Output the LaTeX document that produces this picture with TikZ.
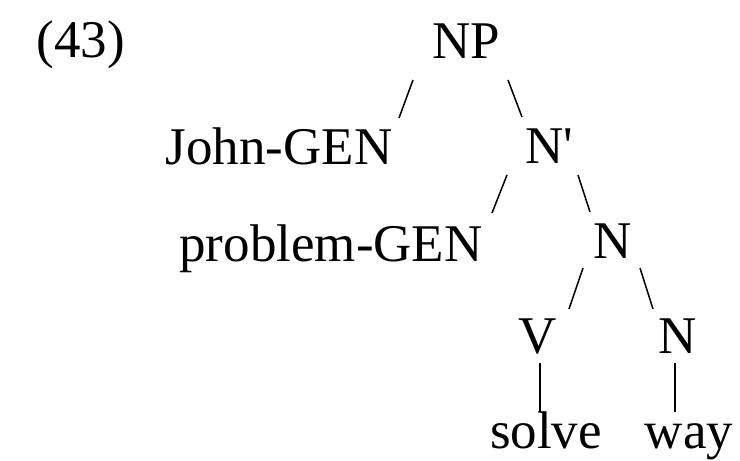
\documentclass[tikz,border=0pt]{standalone}
\usepackage{fontspec}
\setmainfont{Liberation Serif}
\usetikzlibrary{positioning}

\begin{document}
\begin{tikzpicture}[x=1pt, y=-1pt,
  every node/.style={font=\fontsize{53}{60}\selectfont, inner sep=0pt, anchor=base},
  branch/.style={line width=1.5pt}]
\useasboundingbox (0,0) rectangle (740,461);
\node (ex) at (81,57) {(43)};
\node (np) at (466,58) {NP};
\node (jgen) at (279,164) {John-GEN};
\node (nbar) at (549,163) {N\textquotesingle};
\node (pgen) at (331,261) {problem-GEN};
\node (nmid) at (613,258) {N};
\node (v) at (538,353) {V};
\node (nlow) at (678,353) {N};
\node (solve) at (546,448) {solve};
\node (way) at (689,448) {way};
% branches
\draw[branch] ([shift={(-53,22)}]np.base) -- ([shift={(120,-46)}]jgen.base);
\draw[branch] ([shift={(42,22)}]np.base) -- ([shift={(-27,-46)}]nbar.base);
\draw[branch] ([shift={(-42,12)}]nbar.base) -- ([shift={(161,-48)}]pgen.base);
\draw[branch] ([shift={(29,12)}]nbar.base) -- ([shift={(-23,-46)}]nmid.base);
\draw[branch] ([shift={(-30,10)}]nmid.base) -- ([shift={(31,-44)}]v.base);
\draw[branch] ([shift={(27,10)}]nmid.base) -- ([shift={(-25,-44)}]nlow.base);
\draw[branch] ([shift={(2,10)}]v.base) -- ([shift={(-6,-36)}]solve.base);
\draw[branch] ([shift={(-3,10)}]nlow.base) -- ([shift={(-14,-36)}]way.base);
\end{tikzpicture}
\end{document}
